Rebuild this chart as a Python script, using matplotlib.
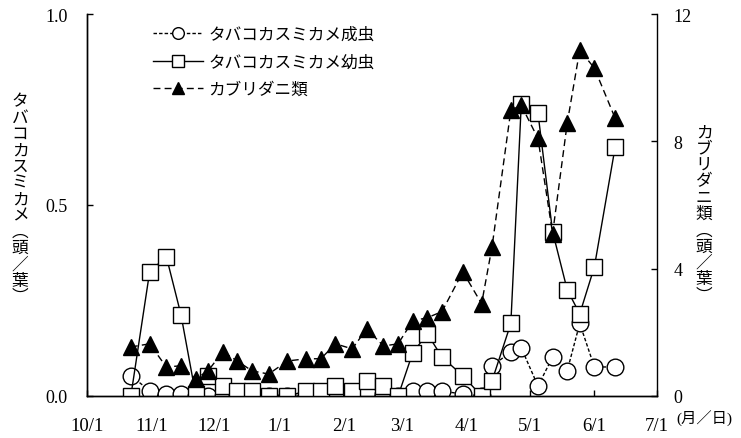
import matplotlib
matplotlib.use("Agg")
import matplotlib.pyplot as plt
import pandas as pd

plt.rcParams['font.family'] = ['Liberation Serif', 'Noto Sans CJK JP']

# 調査日（月/日）
dates = ['10/22', '10/31', '11/8', '11/15', '11/22', '11/28', '12/5', '12/12',
         '12/19', '12/27', '1/5', '1/14', '1/21', '1/28', '2/5', '2/12',
         '2/20', '2/27', '3/6', '3/13', '3/20', '3/30', '4/8', '4/13',
         '4/22', '4/27', '5/5', '5/12', '5/19', '5/25', '6/1', '6/11']

# タバコカスミカメ成虫（頭/葉）
adult = [0.053, 0.014, 0.005, 0.005, 0.0, 0.0, 0.0, 0.0,
         0.0, 0.0, 0.0, 0.0, 0.0, 0.0, 0.0, 0.01,
         0.005, 0.0, 0.013, 0.013, 0.013, 0.005, 0.0, 0.079,
         0.115, 0.126, 0.026, 0.102, 0.066, 0.19, 0.076, 0.076]

# タバコカスミカメ幼虫（頭/葉）
nymph = [0.0, 0.325, 0.365, 0.213, 0.005, 0.053, 0.026, 0.013,
         0.013, 0.0, 0.0, 0.013, 0.013, 0.026, 0.013, 0.039,
         0.026, 0.0, 0.113, 0.163, 0.102, 0.053, 0.0, 0.04,
         0.19, 0.765, 0.74, 0.43, 0.278, 0.215, 0.338, 0.653]

# カブリダニ類（頭/葉）
mite = [1.54, 1.64, 0.91, 0.95, 0.54, 0.79, 1.39, 1.10,
        0.79, 0.69, 1.10, 1.17, 1.17, 1.64, 1.48, 2.11,
        1.57, 1.64, 2.36, 2.46, 2.65, 3.9, 2.9, 4.69,
        8.98, 9.13, 8.09, 5.1, 8.57, 10.87, 10.3, 8.72]

series_names = ['タバコカスミカメ成虫', 'タバコカスミカメ幼虫', 'カブリダニ類']
left_ticks = [0.0, 0.5, 1.0]
right_ticks = [0, 4, 8, 12]


def to_date(s):
    m, d = map(int, s.split('/'))
    return pd.Timestamp(2010 if m >= 10 else 2011, m, d)


x = [to_date(s) for s in dates]
month_ticks = pd.date_range('2010-10-01', '2011-07-01', freq='MS')

fig = plt.figure(figsize=(7.41, 4.39), dpi=100)
ax = fig.add_axes([87 / 741, 1 - 397 / 439, 570 / 741, 382 / 439])
ax2 = ax.twinx()

l1, = ax.plot(x, adult, linestyle=(0, (2.5, 1.5)), color='black', lw=1.0,
              marker='o', ms=12, mfc='white', mec='black', mew=1.0,
              label=series_names[0], zorder=2)
l2, = ax.plot(x, nymph, linestyle='-', color='black', lw=1.0,
              marker='s', ms=12, mfc='white', mec='black', mew=1.0,
              label=series_names[1], zorder=3)
l3, = ax2.plot(x, mite, linestyle=(0, (5, 3)), color='black', lw=1.0,
               marker='^', ms=12, mfc='black', mec='black',
               label=series_names[2], zorder=3)

ax.set_xlim(month_ticks[0], month_ticks[-1])
ax.set_ylim(0, 1.0)
ax2.set_ylim(0, 12)

ax.set_xticks(month_ticks)
ax.set_xticklabels([f'{d.month}/{d.day}' for d in month_ticks])
ax.set_yticks(left_ticks)
ax.set_yticklabels([f'{v:.1f}' for v in left_ticks])
ax2.set_yticks(right_ticks)
ax2.set_yticklabels([str(v) for v in right_ticks])

for a in (ax, ax2):
    a.spines['top'].set_visible(False)
    for s in a.spines.values():
        s.set_linewidth(1.0)
ax.spines['right'].set_visible(False)

ax.tick_params(axis='x', direction='in', length=4, width=1.0, pad=15, labelsize=13.5)
ax.tick_params(axis='y', direction='in', length=4, width=1.0, pad=14, labelsize=13)
ax2.tick_params(axis='y', direction='in', length=4, width=1.0, pad=12, labelsize=13)

leg = ax2.legend(handles=[l1, l2, l3], loc='upper left',
                 bbox_to_anchor=(153 / 741, 1 - 27 / 439),
                 bbox_transform=fig.transFigure, frameon=False,
                 borderpad=0, borderaxespad=0, handlelength=3.0,
                 handletextpad=0.3, labelspacing=0.62, markerscale=0.7,
                 prop={'family': 'Noto Sans CJK JP', 'size': 12})

# 縦書きの軸ラベル
cjk = {'family': 'Noto Sans CJK JP', 'size': 12}
left_label = 'タバコカスミカメ︵頭／葉︶'
right_label = 'カブリダニ類︵頭／葉︶'
pitch = 16.3
for i, ch in enumerate(left_label):
    fig.text(20 / 741, 1 - (102 + i * pitch) / 439, ch, ha='center', va='center', **cjk)
for i, ch in enumerate(right_label):
    fig.text(704 / 741, 1 - (133 + i * pitch) / 439, ch, ha='center', va='center', **cjk)

fig.text(704 / 741, 1 - 419 / 439, '(月／日)', ha='center', va='center', size=11)

fig.savefig('out.png', dpi=100)
